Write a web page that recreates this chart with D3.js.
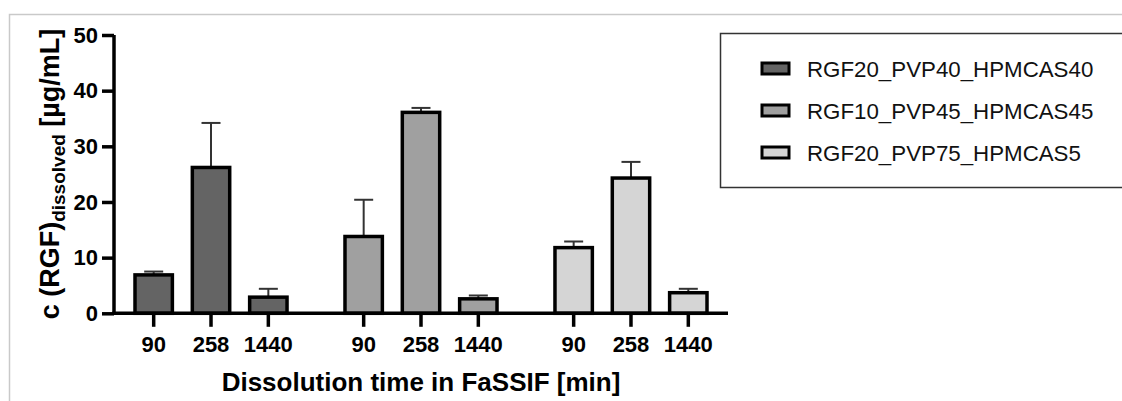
<!DOCTYPE html>
<html>
<head>
<meta charset="utf-8">
<script src="https://cdn.jsdelivr.net/npm/d3@7"></script>
<style>
  html, body { margin: 0; padding: 0; background: #fff; }
  svg { display: block; font-family: "Liberation Sans", Arial, sans-serif; }
</style>
</head>
<body>
<svg id="chart" width="1122" height="401"></svg>
<script>
// Formulations (one bar group each) and sampling times
const formulations = ["RGF20_PVP40_HPMCAS40", "RGF10_PVP45_HPMCAS45", "RGF20_PVP75_HPMCAS5"];
const timeLabels = ["90", "258", "1440"];
const fillColors = ["#646464", "#a0a0a0", "#d5d5d5"];

// Dissolved RGF concentration [µg/mL], mean and SD per time point
const meanF1 = [6.9, 26.2, 2.9];
const sdF1 = [0.6, 8.0, 1.5];
const meanF2 = [13.8, 36.1, 2.6];
const sdF2 = [6.6, 0.8, 0.6];
const meanF3 = [11.8, 24.3, 3.7];
const sdF3 = [1.1, 2.9, 0.7];

const yTicks = [0, 10, 20, 30, 40, 50];

const groups = [
  { name: formulations[0], mean: meanF1, sd: sdF1, color: fillColors[0] },
  { name: formulations[1], mean: meanF2, sd: sdF2, color: fillColors[1] },
  { name: formulations[2], mean: meanF3, sd: sdF3, color: fillColors[2] }
];

const svg = d3.select("#chart");

// light frame around the figure
svg.append("rect")
  .attr("x", 9.5).attr("y", 14.5)
  .attr("width", 1200).attr("height", 500)
  .attr("fill", "none").attr("stroke", "#c9c9c9").attr("stroke-width", 1.5);

const plot = { left: 114, right: 728, top: 35, bottom: 313.3 };

const y = d3.scaleLinear().domain([0, 50]).range([plot.bottom, plot.top]);
const xGroup = d3.scaleBand()
  .domain(formulations)
  .range([plot.left, plot.right])
  .paddingInner(0.276)
  .paddingOuter(0.1);
const xTime = d3.scaleBand()
  .domain(timeLabels)
  .range([0, xGroup.bandwidth()])
  .paddingInner(0.348)
  .paddingOuter(0);

// bars with error bars
const g = svg.append("g");
groups.forEach(grp => {
  const gx = xGroup(grp.name);
  timeLabels.forEach((t, i) => {
    const x0 = gx + xTime(t);
    const w = xTime.bandwidth();
    const cx = x0 + w / 2;
    const top = y(grp.mean[i]);
    const cap = y(grp.mean[i] + grp.sd[i]);
    g.append("line")
      .attr("x1", cx).attr("x2", cx)
      .attr("y1", top).attr("y2", cap)
      .attr("stroke", "#333").attr("stroke-width", 2);
    g.append("line")
      .attr("x1", cx - 9.5).attr("x2", cx + 9.5)
      .attr("y1", cap).attr("y2", cap)
      .attr("stroke", "#333").attr("stroke-width", 2);
    g.append("rect")
      .attr("x", x0).attr("y", top)
      .attr("width", w).attr("height", y(0) - top)
      .attr("fill", grp.color)
      .attr("stroke", "#000").attr("stroke-width", 3.5);
  });
});

// y axis
const yAxis = svg.append("g")
  .attr("transform", `translate(${plot.left},0)`)
  .call(d3.axisLeft(y).tickValues(yTicks).tickSize(12).tickPadding(4));
yAxis.select(".domain").attr("stroke", "#000").attr("stroke-width", 3.5)
  .attr("d", `M0,${plot.top}V${plot.bottom}`);
yAxis.selectAll(".tick line").attr("stroke", "#000").attr("stroke-width", 3.5);
yAxis.selectAll(".tick text")
  .attr("fill", "#000")
  .style("font-size", "22px").style("font-weight", "bold")
  .style("font-family", "'Liberation Sans', Arial, sans-serif");

// x axis: one tick per bar, labelled with the time point
const tickData = [];
groups.forEach(grp => timeLabels.forEach(t => tickData.push({
  x: xGroup(grp.name) + xTime(t) + xTime.bandwidth() / 2, label: t
})));
const xAxis = svg.append("g");
xAxis.append("line")
  .attr("x1", plot.left - 1.75).attr("x2", plot.right)
  .attr("y1", plot.bottom).attr("y2", plot.bottom)
  .attr("stroke", "#000").attr("stroke-width", 3.5);
xAxis.selectAll("line.tick").data(tickData).join("line")
  .attr("class", "tick")
  .attr("x1", d => d.x).attr("x2", d => d.x)
  .attr("y1", plot.bottom).attr("y2", plot.bottom + 13.5)
  .attr("stroke", "#000").attr("stroke-width", 3.5);
xAxis.selectAll("text").data(tickData).join("text")
  .attr("x", d => d.x).attr("y", 352)
  .attr("text-anchor", "middle")
  .style("font-size", "22px").style("font-weight", "bold")
  .text(d => d.label);

// axis titles
svg.append("text")
  .attr("x", (plot.left + plot.right) / 2).attr("y", 391)
  .attr("text-anchor", "middle")
  .style("font-size", "26px").style("font-weight", "bold")
  .text("Dissolution time in FaSSIF [min]");

const yTitle = svg.append("text")
  .attr("transform", "translate(59,174) rotate(-90)")
  .attr("text-anchor", "middle")
  .style("font-size", "27px").style("font-weight", "bold");
yTitle.append("tspan").text("c (RGF)");
yTitle.append("tspan").attr("dy", 6).style("font-size", "19px").text("dissolved");
yTitle.append("tspan").attr("dy", -6).text(" [µg/mL]");

// legend
const legend = svg.append("g");
legend.append("rect")
  .attr("x", 720.5).attr("y", 33.5)
  .attr("width", 500).attr("height", 154)
  .attr("fill", "#fff").attr("stroke", "#333").attr("stroke-width", 1.5);
groups.forEach((grp, i) => {
  const cy = 68.5 + i * 42;
  legend.append("rect")
    .attr("x", 762).attr("y", cy - 5.5)
    .attr("width", 27).attr("height", 11)
    .attr("fill", grp.color).attr("stroke", "#000").attr("stroke-width", 3);
  legend.append("text")
    .attr("x", 807).attr("y", cy + 8)
    .style("font-size", "22.3px").attr("fill", "#111")
    .text(grp.name);
});
</script>
</body>
</html>
